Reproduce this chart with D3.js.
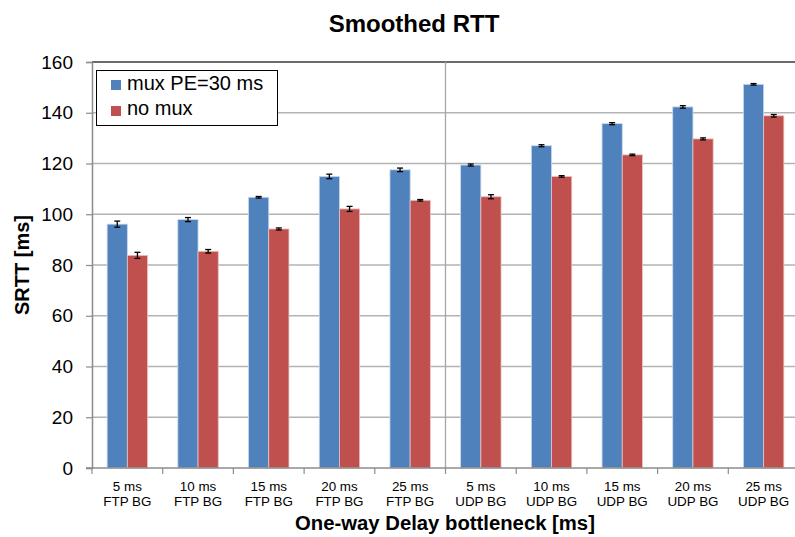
<!DOCTYPE html>
<html>
<head>
<meta charset="utf-8">
<script src="https://cdn.jsdelivr.net/npm/d3@7"></script>
<style>
body{margin:0;background:#fff;}
text{font-family:"Liberation Sans",Arial,sans-serif;}
</style>
</head>
<body>
<svg id="chart" width="795" height="537"></svg>
<script>
const categories = [
  ["5 ms","FTP BG"],["10 ms","FTP BG"],["15 ms","FTP BG"],["20 ms","FTP BG"],["25 ms","FTP BG"],
  ["5 ms","UDP BG"],["10 ms","UDP BG"],["15 ms","UDP BG"],["20 ms","UDP BG"],["25 ms","UDP BG"]
];
const seriesNames = ["mux PE=30 ms","no mux"];
const muxValues   = [96.1, 97.9, 106.7, 114.9, 117.5, 119.4, 127.0, 135.7, 142.3, 151.2];
const noMuxValues = [83.8, 85.4, 94.2, 102.1, 105.5, 106.9, 114.9, 123.4, 129.7, 138.8];
const muxErr      = [1.2, 0.8, 0.3, 0.9, 0.7, 0.4, 0.4, 0.4, 0.5, 0.3];
const noMuxErr    = [1.2, 0.7, 0.4, 1.0, 0.3, 0.8, 0.3, 0.3, 0.4, 0.5];
const yTicks = [0,20,40,60,80,100,120,140,160];
const colors = ["#4F81BD","#C0504D"];

(function(){
const svg = d3.select("#chart");
const pLeft = 92, pTop = 62, pBottom = 468, catW = 70.7;
const pRight = pLeft + catW * categories.length;

const x = d3.scaleBand().domain(d3.range(categories.length)).range([pLeft, pRight]).paddingInner(0).paddingOuter(0);
const y = d3.scaleLinear().domain([0,160]).range([pBottom, pTop]);
const xs = d3.scaleBand().domain([0,1]).range([0, x.bandwidth()]).paddingInner(0).paddingOuter(0.75);

// gridlines
svg.append("g").selectAll("line").data(yTicks.filter(t => t > 0 && t < 160)).join("line")
  .attr("x1", pLeft).attr("x2", pRight).attr("y1", d => y(d)).attr("y2", d => y(d))
  .attr("stroke", "#b3b3b3").attr("stroke-width", 1.3);
// top line
svg.append("line").attr("x1", pLeft).attr("x2", pRight).attr("y1", y(160)).attr("y2", y(160))
  .attr("stroke", "#3a3a3a").attr("stroke-width", 1.5);

// separator between FTP and UDP
svg.append("line").attr("x1", x(5)).attr("x2", x(5)).attr("y1", pTop).attr("y2", pBottom)
  .attr("stroke", "#a6a6a6").attr("stroke-width", 1.3);

// bars
const data = [];
categories.forEach((c, i) => {
  data.push({i, s:0, v: muxValues[i], e: muxErr[i]});
  data.push({i, s:1, v: noMuxValues[i], e: noMuxErr[i]});
});
const bars = svg.append("g");
bars.selectAll("rect").data(data).join("rect")
  .attr("x", d => x(d.i) + xs(d.s))
  .attr("width", xs.bandwidth())
  .attr("y", d => y(d.v))
  .attr("height", d => y(0) - y(d.v))
  .attr("fill", d => colors[d.s])
  .attr("stroke", d => d.s === 0 ? "#c9d7ea" : "#e8c3c2")
  .attr("stroke-width", 0.8);

// error bars
const eb = svg.append("g").attr("stroke", "#000").attr("stroke-width", 1.3);
data.forEach(d => {
  const cx = x(d.i) + xs(d.s) + xs.bandwidth()/2;
  const y1 = y(d.v + d.e), y2 = y(d.v - d.e);
  eb.append("line").attr("x1", cx).attr("x2", cx).attr("y1", y1).attr("y2", y2);
  eb.append("line").attr("x1", cx-3).attr("x2", cx+3).attr("y1", y1).attr("y2", y1);
  eb.append("line").attr("x1", cx-3).attr("x2", cx+3).attr("y1", y2).attr("y2", y2);
});

// y axis
const yAxis = svg.append("g").attr("transform", `translate(${pLeft},0)`)
  .call(d3.axisLeft(y).tickValues(yTicks).tickSize(6).tickPadding(13));
yAxis.select(".domain").attr("stroke", "#8c8c8c").attr("stroke-width", 1.5);
yAxis.selectAll(".tick line").attr("stroke", "#8c8c8c").attr("stroke-width", 1.2);
yAxis.selectAll(".tick text").attr("font-size", 19).attr("fill", "#000")
  .style("font-family", "Liberation Sans, Arial, sans-serif");

// x axis
const bounds = d3.range(categories.length + 1);
const xg = svg.append("g");
xg.append("line").attr("x1", pLeft - 6).attr("x2", pRight).attr("y1", pBottom).attr("y2", pBottom)
  .attr("stroke", "#8c8c8c").attr("stroke-width", 1.5);
xg.selectAll("line.tk").data(bounds).join("line").attr("class","tk")
  .attr("x1", d => pLeft + d * x.step()).attr("x2", d => pLeft + d * x.step())
  .attr("y1", pBottom).attr("y2", pBottom + 6)
  .attr("stroke", "#8c8c8c").attr("stroke-width", 1.2);
const lbl = xg.selectAll("text").data(categories).join("text")
  .attr("text-anchor", "middle").attr("font-size", 13.4).attr("fill", "#000");
lbl.append("tspan").attr("x", (d,i) => x(i) + x.bandwidth()/2).attr("y", 491).text(d => d[0]);
lbl.append("tspan").attr("x", (d,i) => x(i) + x.bandwidth()/2).attr("y", 506).text(d => d[1]);

// titles
svg.append("text").attr("x", 414).attr("y", 32).attr("text-anchor", "middle")
  .attr("font-size", 24).attr("font-weight", "bold").text("Smoothed RTT");
svg.append("text").attr("x", 445).attr("y", 530).attr("text-anchor", "middle")
  .attr("font-size", 20.3).attr("font-weight", "bold").text("One-way Delay bottleneck [ms]");
svg.append("text").attr("transform", "translate(29,265) rotate(-90)").attr("text-anchor", "middle")
  .attr("font-size", 20).attr("font-weight", "bold").text("SRTT [ms]");

// legend
const lg = svg.append("g");
lg.append("rect").attr("x", 96.5).attr("y", 70.5).attr("width", 181).attr("height", 55)
  .attr("fill", "#fff").attr("stroke", "#000").attr("stroke-width", 1);
seriesNames.forEach((n, i) => {
  lg.append("rect").attr("x", 111).attr("y", 80 + i*26).attr("width", 10).attr("height", 10).attr("fill", colors[i]);
  lg.append("text").attr("x", 127).attr("y", 89.5 + i*25.7).attr("font-size", 20).text(n);
});
})();
</script>
</body>
</html>
